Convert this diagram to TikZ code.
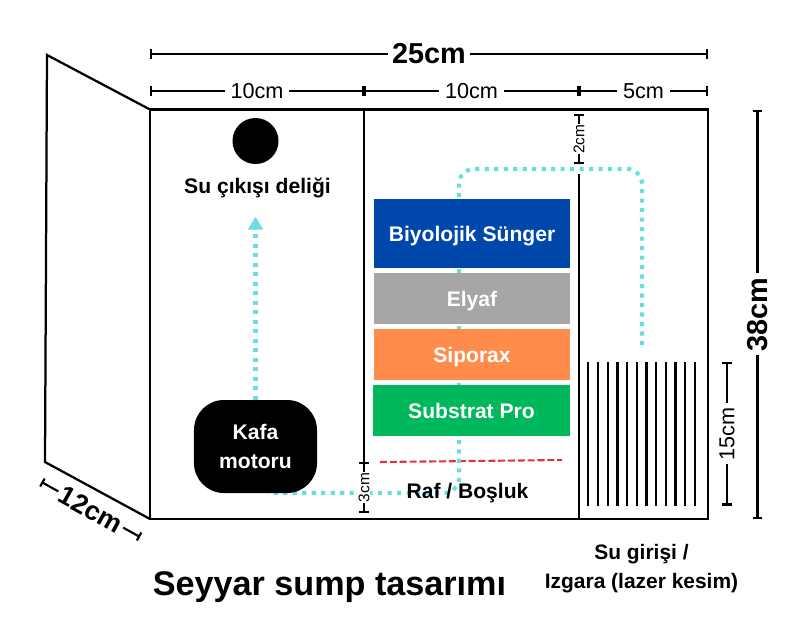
\documentclass[tikz,border=0pt]{standalone}
\usepackage{fontspec}
\setmainfont{Liberation Sans}
\usetikzlibrary{arrows.meta}
\definecolor{flowcyan}{HTML}{6ADDE0}
\definecolor{spongeblue}{HTML}{0047AB}
\definecolor{fibergrey}{HTML}{A6A6A6}
\definecolor{siporaxorange}{HTML}{FF8C4A}
\definecolor{substratgreen}{HTML}{00B85C}
\definecolor{shelfred}{HTML}{E0353F}
\tikzset{
  wall/.style={line width=1.6pt, black},
  dimline/.style={line width=1.5pt, {Bar[width=6.5pt]}-{Bar[width=6.5pt]}},
  dimbig/.style={fill=white, inner sep=3pt, font=\bfseries\fontsize{20.5}{24}\selectfont},
  dimmid/.style={fill=white, inner sep=4pt, font=\fontsize{15.4}{18}\selectfont},
  dimsmall/.style={fill=white, inner sep=0.6pt, font=\fontsize{11}{13}\selectfont},
  flow/.style={line width=2.9pt, flowcyan, dash pattern=on 2.9pt off 3.85pt},
  media/.style={minimum width=4.9cm, inner sep=0pt, text=white, text depth=0pt, font=\bfseries\fontsize{15}{18}\selectfont},
  tag/.style={align=center, font=\bfseries\fontsize{15}{20.5}\selectfont},
}
\begin{document}
\begin{tikzpicture}[x=0.025cm, y=-0.025cm]
    \useasboundingbox (0,0) rectangle (800,634);
    % Tank outline and walls:
    \coordinate (TL) at (150,109.5);
    \coordinate (TR) at (708,109.5);
    \coordinate (BR) at (708,519);
    \coordinate (BL) at (150,519);
    \coordinate (S1) at (47,55);
    \coordinate (S2) at (45,462);
    \coordinate (W1top) at (364,109.5);
    \coordinate (W1bot) at (364,462);
    \coordinate (W2top) at (579,174);
    \coordinate (W2bot) at (579,519);
    \draw[wall, line join=miter] (TL) -- (TR) -- (BR) -- (BL) -- cycle;
    \draw[wall] (TL) -- (S1) -- (S2) -- (BL);
    \draw[wall] (W1top) -- (W1bot);
    \draw[wall] (W2top) -- (W2bot);
    % Shelf line and water path, behind the media:
    \coordinate (R1) at (380,462);
    \coordinate (R2) at (562,460);
    \draw[shelfred, line width=1.5pt, dash pattern=on 5pt off 2pt] (R1) -- (R2);
    \coordinate (inlet) at (642,345);
    \coordinate (outlet) at (255.5,217);
    \coordinate (pumpin) at (268,493);
    \draw[flow, rounded corners=0.375cm] (inlet) -- (642,169) -- (459,169) -- (459,493) -- (pumpin);
    % Media stack:
    \node[media, fill=spongeblue, minimum height=1.725cm](N1) at (472,233.5){Biyolojik Sünger};
    \node[media, fill=fibergrey, minimum height=1.275cm](N2) at (472,298.5){Elyaf};
    \node[media, fill=siporaxorange, minimum height=1.275cm](N3) at (472,354.5){Siporax};
    \node[media, fill=substratgreen, minimum height=1.275cm](N4) at (471.5,410.5){Substrat Pro};
    \node[tag](N5) at (467.5,493){Raf / Boşluk};
    % Pump and outlet:
    \node[fill=black, text=white, rounded corners=0.75cm, minimum width=3.075cm, minimum height=2.325cm, tag](kafa) at (255.5,446.5){Kafa\\motoru};
    \draw[flow] (kafa.north) -- (255.5,228);
    \coordinate (tipbase) at (255.5,226);
    \draw[flowcyan, line width=0.1pt, -{Triangle[width=11pt, length=9pt]}] (tipbase) -- (outlet);
    \node[circle, fill=black, minimum size=1.15cm, inner sep=0pt](hole) at (255.5,141){};
    \node[tag](N6) at (257.5,188){Su çıkışı deliği};
    % Grid:
    \foreach \i in {0,...,11}{
      \coordinate (G\i a) at ({588.3+\i*9.7},362);
      \coordinate (G\i b) at ({588.3+\i*9.7},505.5);
      \draw[line width=1.6pt] (G\i a) -- (G\i b);
    }
    % Dimensions:
    \coordinate (D1) at (150,54);
    \coordinate (D2) at (708,54);
    \draw[dimline] (D1) -- (D2) node[midway, dimbig]{25cm};
    \coordinate (D3) at (150,91);
    \coordinate (D4) at (364,91);
    \coordinate (D5) at (579,91);
    \coordinate (D6) at (708,91);
    \draw[dimline] (D3) -- (D4) node[midway, dimmid]{10cm};
    \draw[dimline] (D4) -- (D5) node[midway, dimmid]{10cm};
    \draw[dimline] (D5) -- (D6) node[midway, dimmid]{5cm};
    \coordinate (D7) at (757.5,109.5);
    \coordinate (D8) at (757.5,519);
    \draw[dimline] (D7) -- (D8) node[midway, dimbig, rotate=90]{38cm};
    \coordinate (D9) at (727,362);
    \coordinate (D10) at (727,505.5);
    \draw[dimline] (D9) -- (D10) node[midway, dimmid, rotate=90, inner sep=3pt]{15cm};
    \coordinate (D11) at (579,114);
    \coordinate (D12) at (579,164);
    \draw[dimline] (D11) -- (D12) node[midway, dimsmall, rotate=90]{2cm};
    \coordinate (D13) at (364,462);
    \coordinate (D14) at (364,513);
    \draw[dimline] (D13) -- (D14) node[midway, dimsmall, rotate=90]{3cm};
    \coordinate (D15) at (41.5,482);
    \coordinate (D16) at (140,537);
    \draw[dimline] (D15) -- (D16) node[midway, sloped, fill=white, inner sep=2pt, font=\bfseries\fontsize{19}{22}\selectfont]{12cm};
    % Captions:
    \node[tag, font=\bfseries\fontsize{14.9}{20.5}\selectfont](N7) at (641.5,568.5){Su girişi /\\Izgara (lazer kesim)};
    \node[font=\bfseries\fontsize{24.3}{30}\selectfont](N8) at (329.5,587){Seyyar sump tasarımı};
\end{tikzpicture}
\end{document}
